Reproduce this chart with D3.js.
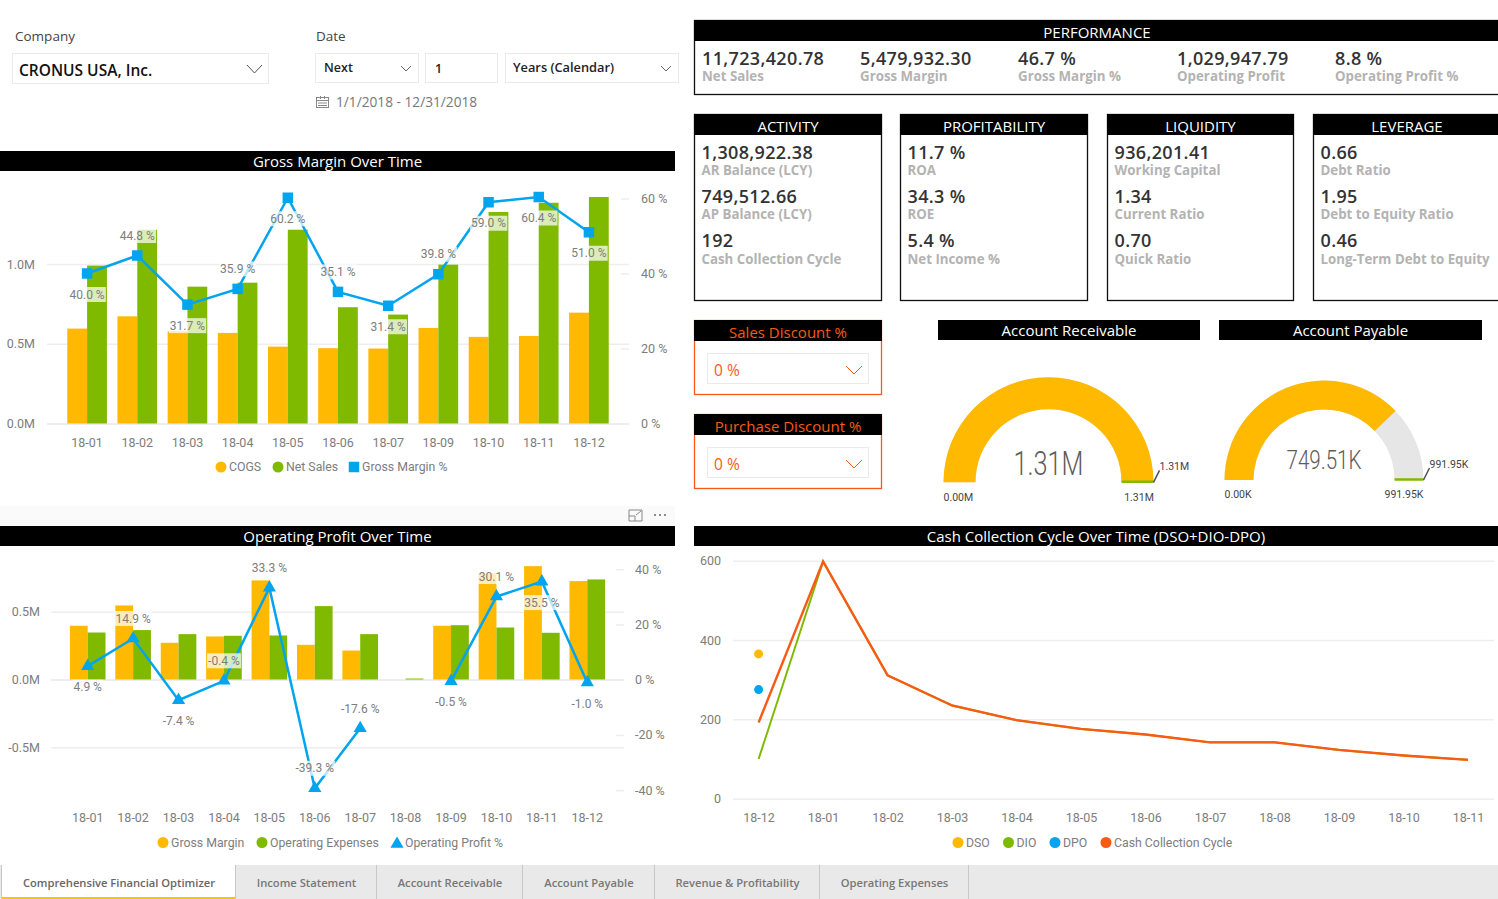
<!DOCTYPE html>
<html lang="en">
<head>
<meta charset="UTF-8">
<title>Comprehensive Financial Optimizer</title>
<script src="https://cdn.jsdelivr.net/npm/d3@7"></script>
<style>
	html, body { margin: 0; padding: 0; background: #fff; overflow: hidden; }
	svg { display: block; }
	text { font-family: "Open Sans", sans-serif; }
	.din text, text.din { font-family: Roboto, sans-serif; }
</style>
</head>
<body>
<div id="report"></div>
<script>
	// chart data
	const grossMonths = ["18-01", "18-02", "18-03", "18-04", "18-05", "18-06", "18-07", "18-09", "18-10", "18-11", "18-12"];
	const cogs = [0.595, 0.672, 0.578, 0.568, 0.482, 0.472, 0.470, 0.599, 0.543, 0.549, 0.695];
	const netSales = [0.990, 1.215, 0.858, 0.883, 1.215, 0.729, 0.683, 0.996, 1.326, 1.384, 1.420];
	const grossMarginPct = [40.0, 44.8, 31.7, 35.9, 60.2, 35.1, 31.4, 39.8, 59.0, 60.4, 51.0];
	const grossLabelBelow = ["18-01", "18-03", "18-05", "18-07", "18-10", "18-11", "18-12"];

	const opMonths = ["18-01", "18-02", "18-03", "18-04", "18-05", "18-06", "18-07", "18-08", "18-09", "18-10", "18-11", "18-12"];
	const grossMargin = [0.397, 0.547, 0.271, 0.318, 0.732, 0.256, 0.214, null, 0.397, 0.784, 0.837, 0.727];
	const opExpenses = [0.347, 0.365, 0.335, 0.323, 0.325, 0.542, 0.335, 0.007, 0.401, 0.384, 0.345, 0.739];
	const opProfitPct = [4.9, 14.9, -7.4, -0.4, 33.3, -39.3, -17.6, null, -0.5, 30.1, 35.5, -1.0];
	const opLabelBelow = ["18-01", "18-03", "18-09", "18-11", "18-12"];

	const cycleMonths = ["18-12", "18-01", "18-02", "18-03", "18-04", "18-05", "18-06", "18-07", "18-08", "18-09", "18-10", "18-11"];
	const dso = [365, null, null, null, null, null, null, null, null, null, null, null];
	const dpo = [275, null, null, null, null, null, null, null, null, null, null, null];
	const dio = [100, 598, 311, 235, 198, 176, 162, 142, 142, 123, 109, 98];
	const cashCycle = [192, 598, 311, 235, 198, 176, 162, 142, 142, 123, 109, 98];

	const performanceValues = ["11,723,420.78", "5,479,932.30", "46.7 %", "1,029,947.79", "8.8 %"];
	const performanceLabels = ["Net Sales", "Gross Margin", "Gross Margin %", "Operating Profit", "Operating Profit %"];
	const cardTitles = ["ACTIVITY", "PROFITABILITY", "LIQUIDITY", "LEVERAGE"];
	const cardValues = [
		["1,308,922.38", "749,512.66", "192"],
		["11.7 %", "34.3 %", "5.4 %"],
		["936,201.41", "1.34", "0.70"],
		["0.66", "1.95", "0.46"]
	];
	const cardLabels = [
		["AR Balance (LCY)", "AP Balance (LCY)", "Cash Collection Cycle"],
		["ROA", "ROE", "Net Income %"],
		["Working Capital", "Current Ratio", "Quick Ratio"],
		["Debt Ratio", "Debt to Equity Ratio", "Long-Term Debt to Equity"]
	];
	const arValue = 1308922.38, arMax = 1310000;
	const apValue = 749512.66, apMax = 991950;
	const tabNames = ["Comprehensive Financial Optimizer", "Income Statement", "Account Receivable", "Account Payable", "Revenue & Profitability", "Operating Expenses"];

	// layout and colours
	const yellow = "#ffb900", green = "#7fba00", blue = "#01a4ef", orange = "#fa5a14";
	const gridColor = "#eeeeee", axisText = "#7d7d7d";
	const tabEdges = [2, 236, 377, 523, 655, 820, 969];
	const perfX = [702, 860, 1018, 1177, 1335];
	const cardEdges = [[694, 882], [900, 1088], [1107, 1294], [1313, 1501]];

	const svg = d3.select("#report").append("svg").attr("width", 1498).attr("height", 899);

	function text(g, x, y, str, o) {
		o = o || {};
		return g.append("text")
			.attr("x", x).attr("y", y)
			.attr("dy", "0.35em")
			.attr("text-anchor", o.anchor || "start")
			.attr("font-size", o.size || 13)
			.attr("font-weight", o.weight || 400)
			.attr("letter-spacing", o.spacing || null)
			.attr("textLength", o.length || null)
			.attr("lengthAdjust", o.length ? "spacingAndGlyphs" : null)
			.attr("class", o.din ? "din" : null)
			.style("fill", o.fill || "#333")
			.text(str);
	}

	function titleBar(x, y, w, title, color) {
		svg.append("rect").attr("x", x).attr("y", y).attr("width", w).attr("height", 20).attr("fill", "#000");
		text(svg, x + w / 2, y + 10.5, title, { anchor: "middle", size: 15, fill: color || "#fff" });
	}

	function chevron(x, y, w, h, color) {
		svg.append("path")
			.attr("d", `M${x},${y} L${x + w / 2},${y + h} L${x + w},${y}`)
			.attr("fill", "none").attr("stroke", color).attr("stroke-width", 1);
	}

	function slicerBox(x, y, w, h) {
		svg.append("rect").attr("x", x + 0.5).attr("y", y + 0.5).attr("width", w).attr("height", h)
			.attr("fill", "#fff").attr("stroke", "#eaeaea");
	}

	// label with the washed out backing Power BI puts behind data labels
	function dataLabel(g, x, y, str) {
		const t = text(g, x, y, str, { anchor: "middle", size: 12, fill: axisText, din: true });
		const b = t.node().getBBox();
		g.insert("rect", () => t.node())
			.attr("x", b.x - 1).attr("y", y - 7.5).attr("width", b.width + 2).attr("height", 15)
			.attr("fill", "#fff").attr("opacity", 0.72);
	}

	function legend(items, y) {
		const g = svg.append("g");
		items.forEach(d => {
			if (d.shape === "circle") {
				g.append("circle").attr("cx", d.x).attr("cy", y).attr("r", 5.5).attr("fill", d.color);
			} else if (d.shape === "square") {
				g.append("path").attr("d", d3.symbol(d3.symbolSquare, 110)())
					.attr("transform", `translate(${d.x},${y})`).attr("fill", d.color);
			} else {
				g.append("path").attr("d", d3.symbol(d3.symbolTriangle, 75)())
					.attr("transform", `translate(${d.x},${y + 1.5})`).attr("fill", d.color);
			}
			text(g, d.x + 8, y, d.name, { size: 12.3, fill: axisText, din: true });
		});
	}

	// left axis with full width grid, right axis with short ticks, months under
	function comboFrame(o) {
		const g = svg.append("g").attr("class", "din");
		const left = d3.axisLeft(o.yLeft).tickValues(o.leftTicks).tickFormat(d => d.toFixed(1) + "M").tickSize(o.gridRight - o.gridLeft);
		const gl = g.append("g").attr("transform", `translate(${o.gridRight},0)`).call(left);
		gl.select(".domain").remove();
		gl.selectAll("line").attr("stroke", gridColor).attr("stroke-width", d => d === 0 ? 2 : 1.5);
		gl.selectAll("text").attr("x", o.leftLabelEnd - o.gridRight).attr("font-size", 12.5).style("fill", axisText);

		const right = d3.axisRight(o.yRight).tickValues(o.rightTicks).tickFormat(d => d + " %").tickSize(-8);
		const gr = g.append("g").attr("transform", `translate(${o.gridRight},0)`).call(right);
		gr.select(".domain").remove();
		gr.selectAll("line").attr("stroke", gridColor).attr("stroke-width", 1.5);
		gr.selectAll("text").attr("x", o.rightLabelStart - o.gridRight).attr("font-size", 12.5).style("fill", axisText);

		const gb = g.append("g").attr("transform", `translate(0,${o.monthY})`).call(d3.axisBottom(o.x).tickSize(0));
		gb.select(".domain").remove();
		gb.selectAll("text").attr("y", 0).attr("dy", "0.35em").attr("font-size", 12.5).style("fill", axisText);
		return g;
	}

	function bars(g, months, values, x, y, series, sub, color) {
		g.append("g").selectAll("rect")
			.data(months.map((m, i) => ({ m: m, v: values[i] })).filter(d => d.v !== null))
			.enter().append("rect")
			.attr("x", d => x(d.m) + sub(series))
			.attr("y", d => y(d.v))
			.attr("width", sub.bandwidth())
			.attr("height", d => y(0) - y(d.v))
			.attr("fill", color);
	}

	function percentLine(g, months, values, x, y, symbol, size, below) {
		const px = m => x(m) + x.bandwidth() / 2;
		const pts = months.map((m, i) => ({ m: m, v: values[i] }));
		g.append("path")
			.attr("d", d3.line().defined(d => d.v !== null).x(d => px(d.m)).y(d => y(d.v))(pts))
			.attr("fill", "none").attr("stroke", blue).attr("stroke-width", 2.5);
		const shown = pts.filter(d => d.v !== null);
		g.append("g").selectAll("path").data(shown).enter().append("path")
			.attr("d", d3.symbol(symbol, size)())
			.attr("transform", d => `translate(${px(d.m)},${y(d.v)})`)
			.attr("fill", blue);
		const labels = g.append("g");
		shown.forEach(d => {
			const off = below.includes(d.m) ? 21 : -20;
			dataLabel(labels, px(d.m), y(d.v) + off, d.v.toFixed(1) + " %");
		});
	}

	// ---- slicers, top left ----
	text(svg, 15, 36, "Company", { size: 13.5, fill: "#444" });
	slicerBox(12, 53, 256, 30);
	text(svg, 19, 70.5, "CRONUS USA, Inc.", { size: 15.5, weight: 600, fill: "#111" });
	chevron(247, 65, 15, 8, "#555");

	text(svg, 316, 36, "Date", { size: 13.5, fill: "#444" });
	slicerBox(315, 53, 103, 29);
	slicerBox(425, 53, 72, 29);
	slicerBox(505, 53, 173, 29);
	text(svg, 324, 68, "Next", { size: 12.5, weight: 600, fill: "#222" });
	text(svg, 435, 69, "1", { size: 12.5, weight: 600, fill: "#222" });
	text(svg, 513, 68, "Years (Calendar)", { size: 12.8, weight: 600, fill: "#222" });
	chevron(401, 66, 10, 5, "#666");
	chevron(661, 66, 10, 5, "#666");

	const cal = svg.append("g").attr("stroke", "#888").attr("fill", "none");
	cal.append("rect").attr("x", 316.5).attr("y", 97.5).attr("width", 12).attr("height", 10);
	cal.append("path").attr("d", "M316.5,100.5 H328.5 M320.5,96 V99 M324.5,96 V99 M318,103 H327 M318,105.5 H327");
	text(svg, 336, 102, "1/1/2018 - 12/31/2018", { size: 13.7, fill: "#777" });

	// ---- Gross Margin Over Time ----
	titleBar(0, 151, 675, "Gross Margin Over Time");
	const gmX = d3.scaleBand().domain(grossMonths).range([62, 614]).paddingInner(0.21).paddingOuter(0.105);
	const gmSub = d3.scaleBand().domain(["cogs", "sales"]).range([0, gmX.bandwidth()]);
	const gmY = d3.scaleLinear().domain([0, 1]).range([423.5, 264]);
	const gmPct = d3.scaleLinear().domain([0, 60]).range([423.5, 198.5]);
	const gmFrame = comboFrame({
		x: gmX, yLeft: gmY, yRight: gmPct, leftTicks: [0, 0.5, 1], rightTicks: [0, 20, 40, 60],
		gridLeft: 47, gridRight: 629, leftLabelEnd: 35, rightLabelStart: 641, monthY: 442.5
	});
	bars(gmFrame, grossMonths, cogs, gmX, gmY, "cogs", gmSub, yellow);
	bars(gmFrame, grossMonths, netSales, gmX, gmY, "sales", gmSub, green);
	percentLine(gmFrame, grossMonths, grossMarginPct, gmX, gmPct, d3.symbolSquare, 110, grossLabelBelow);
	legend([
		{ name: "COGS", x: 221, shape: "circle", color: yellow },
		{ name: "Net Sales", x: 278, shape: "circle", color: green },
		{ name: "Gross Margin %", x: 354, shape: "square", color: blue }
	], 467);

	// visual header strip above the second chart
	svg.append("rect").attr("x", 0).attr("y", 506).attr("width", 675).attr("height", 20).attr("fill", "#fafafa");
	svg.append("path").attr("d", "M629,516 V510 H642 V521 H635 M629,516 H635 V521 H629 V516 M636,515 L641,511")
		.attr("fill", "none").attr("stroke", "#888");
	svg.append("g").selectAll("circle").data([-5, 0, 5]).enter().append("circle")
		.attr("cx", d => 660 + d).attr("cy", 515).attr("r", 1).attr("fill", "#666");

	// ---- Operating Profit Over Time ----
	titleBar(0, 526, 675, "Operating Profit Over Time");
	const opX = d3.scaleBand().domain(opMonths).range([65, 610]).paddingInner(0.216).paddingOuter(0.108);
	const opSub = d3.scaleBand().domain(["margin", "expenses"]).range([0, opX.bandwidth()]);
	const opY = d3.scaleLinear().domain([-0.5, 0.5]).range([747.2, 611.8]);
	const opPct = d3.scaleLinear().domain([-40, 40]).range([790.2, 569.2]);
	const opFrame = comboFrame({
		x: opX, yLeft: opY, yRight: opPct, leftTicks: [-0.5, 0, 0.5], rightTicks: [-40, -20, 0, 20, 40],
		gridLeft: 51, gridRight: 624, leftLabelEnd: 40, rightLabelStart: 635, monthY: 817.5
	});
	bars(opFrame, opMonths, grossMargin, opX, opY, "margin", opSub, yellow);
	bars(opFrame, opMonths, opExpenses, opX, opY, "expenses", opSub, green);
	percentLine(opFrame, opMonths, opProfitPct, opX, opPct, d3.symbolTriangle, 75, opLabelBelow);
	legend([
		{ name: "Gross Margin", x: 163, shape: "circle", color: yellow },
		{ name: "Operating Expenses", x: 262, shape: "circle", color: green },
		{ name: "Operating Profit %", x: 397, shape: "triangle", color: blue }
	], 842.5);

	// ---- KPI cards ----
	function cardFrame(x0, x1, y0, y1, title, stroke, color, titleX) {
		svg.append("rect").attr("x", x0 + 0.5).attr("y", y0 + 0.5).attr("width", x1 - x0 - 1).attr("height", y1 - y0 - 1)
			.attr("fill", "#fff").attr("stroke", stroke).attr("stroke-width", 1.3);
		svg.append("rect").attr("x", x0).attr("y", y0).attr("width", x1 - x0).attr("height", 21).attr("fill", "#000");
		text(svg, titleX || (x0 + x1) / 2, y0 + 12.5, title, { anchor: "middle", size: 15, fill: color || "#fff" });
	}
	function kpi(x, yValue, yLabel, value, label) {
		text(svg, x, yValue, value, { size: 18, weight: 600, fill: "#333", spacing: "0.35px" });
		text(svg, x, yLabel, label, { size: 13.3, weight: 700, fill: "#b3b3b3" });
	}

	cardFrame(694, 1501, 20, 95, "PERFORMANCE", "#111", null, 1097);
	performanceValues.forEach((v, i) => kpi(perfX[i], 59, 76, v, performanceLabels[i]));

	cardTitles.forEach((title, c) => {
		cardFrame(cardEdges[c][0], cardEdges[c][1], 114, 301, title, "#111");
		cardValues[c].forEach((v, i) => kpi(cardEdges[c][0] + 7.5, 152.5 + i * 44.3, 170 + i * 44.5, v, cardLabels[c][i]));
	});

	// ---- discount slicers ----
	[["Sales Discount %", 320], ["Purchase Discount %", 414]].forEach(d => {
		cardFrame(694, 882, d[1], d[1] + 75, d[0], orange, orange);
		slicerBox(707, d[1] + 33, 161, 30);
		text(svg, 714, d[1] + 51, "0 %", { size: 15.5, fill: orange });
		chevron(846, d[1] + 46, 16, 8, orange);
	});

	// ---- gauges ----
	function gauge(o) {
		const angle = d3.scaleLinear().domain([0, o.max]).range([-Math.PI / 2, Math.PI / 2]);
		const arc = d3.arc().innerRadius(o.inner).outerRadius(o.outer);
		const g = svg.append("g").attr("class", "din").attr("transform", `translate(${o.cx},${o.cy})`);
		g.append("path").attr("d", arc({ startAngle: angle(0), endAngle: angle(o.max) })).attr("fill", "#e6e6e6");
		g.append("path").attr("d", arc({ startAngle: angle(0), endAngle: angle(o.value) })).attr("fill", yellow);
		g.append("line").attr("x1", o.inner).attr("x2", o.outer).attr("y1", -0.5).attr("y2", -0.5)
			.attr("stroke", green).attr("stroke-width", 2.5);
		g.append("line").attr("x1", o.outer).attr("y1", 0).attr("x2", o.outer + 6).attr("y2", -12)
			.attr("stroke", "#555").attr("stroke-width", 1.6);
		text(g, 0, o.valueY, o.valueText, { anchor: "middle", size: o.valueSize, fill: "#5c5c5c", din: true, weight: 300, length: o.valueWidth });
		text(g, o.outer + 6, o.calloutY, o.maxText, { size: 10.5, fill: "#444", din: true });
		text(g, -o.outer, o.scaleY, o.minText, { size: 10.5, fill: "#444", din: true });
		text(g, o.maxX, o.scaleY, o.maxText, { anchor: "middle", size: 10.5, fill: "#444", din: true });
	}

	titleBar(938, 320, 262, "Account Receivable");
	titleBar(1219, 320, 263, "Account Payable");
	gauge({
		cx: 1048.5, cy: 482.3, outer: 105, inner: 73, value: arValue, max: arMax,
		valueText: "1.31M", valueSize: 34, valueWidth: 70, valueY: -19, minText: "0.00M", maxText: "1.31M", maxX: 90.5,
		calloutY: -16, scaleY: 15
	});
	gauge({
		cx: 1324, cy: 480, outer: 99.5, inner: 70.5, value: apValue, max: apMax,
		valueText: "749.51K", valueSize: 26, valueWidth: 75, valueY: -20, minText: "0.00K", maxText: "991.95K", maxX: 80,
		calloutY: -16, scaleY: 14
	});

	// ---- Cash Collection Cycle ----
	titleBar(694, 526, 804, "Cash Collection Cycle Over Time (DSO+DIO-DPO)");
	const ccX = d3.scalePoint().domain(cycleMonths).range([758.6, 1468]);
	const ccY = d3.scaleLinear().domain([0, 600]).range([798.7, 560.7]);
	const ccG = svg.append("g").attr("class", "din");
	const ccLeft = ccG.append("g").attr("transform", "translate(1494,0)")
		.call(d3.axisLeft(ccY).tickValues([0, 200, 400, 600]).tickSize(761));
	ccLeft.select(".domain").remove();
	ccLeft.selectAll("line").attr("stroke", gridColor).attr("stroke-width", 1.5);
	ccLeft.selectAll("text").attr("x", 721 - 1494).attr("font-size", 12.5).style("fill", axisText);
	const ccBottom = ccG.append("g").attr("transform", "translate(0,817.5)").call(d3.axisBottom(ccX).tickSize(0));
	ccBottom.select(".domain").remove();
	ccBottom.selectAll("text").attr("y", 0).attr("dy", "0.35em").attr("font-size", 12.5).style("fill", axisText);

	const ccLine = d3.line().x((d, i) => ccX(cycleMonths[i])).y(d => ccY(d));
	ccG.append("path").attr("d", ccLine(dio)).attr("fill", "none").attr("stroke", green).attr("stroke-width", 2);
	ccG.append("path").attr("d", ccLine(cashCycle)).attr("fill", "none").attr("stroke", orange).attr("stroke-width", 2.4);
	[[dso, yellow], [dpo, blue]].forEach(s => {
		ccG.append("g").selectAll("circle")
			.data(cycleMonths.map((m, i) => ({ m: m, v: s[0][i] })).filter(d => d.v !== null))
			.enter().append("circle")
			.attr("cx", d => ccX(d.m)).attr("cy", d => ccY(d.v)).attr("r", 4.5).attr("fill", s[1]);
	});
	legend([
		{ name: "DSO", x: 958, shape: "circle", color: yellow },
		{ name: "DIO", x: 1008.5, shape: "circle", color: green },
		{ name: "DPO", x: 1055, shape: "circle", color: blue },
		{ name: "Cash Collection Cycle", x: 1106, shape: "circle", color: orange }
	], 842.5);

	// ---- page tabs ----
	svg.append("rect").attr("x", 0).attr("y", 865).attr("width", 1498).attr("height", 34).attr("fill", "#e9e9e9");
	svg.append("rect").attr("x", tabEdges[0]).attr("y", 865).attr("width", tabEdges[1] - tabEdges[0]).attr("height", 34).attr("fill", "#fff");
	svg.append("rect").attr("x", tabEdges[0]).attr("y", 897).attr("width", tabEdges[1] - tabEdges[0]).attr("height", 2).attr("fill", "#f2c80f");
	svg.append("g").selectAll("line").data(tabEdges).enter().append("line")
		.attr("x1", d => d === 2 ? 1.5 : d - 0.5).attr("x2", d => d === 2 ? 1.5 : d - 0.5)
		.attr("y1", 865).attr("y2", 899).attr("stroke", "#c8c8c8");
	tabNames.forEach((name, i) => {
		text(svg, (tabEdges[i] + tabEdges[i + 1]) / 2, 883, name, { anchor: "middle", size: 11.2, weight: 600, fill: i === 0 ? "#666" : "#777" });
	});
</script>
</body>
</html>
